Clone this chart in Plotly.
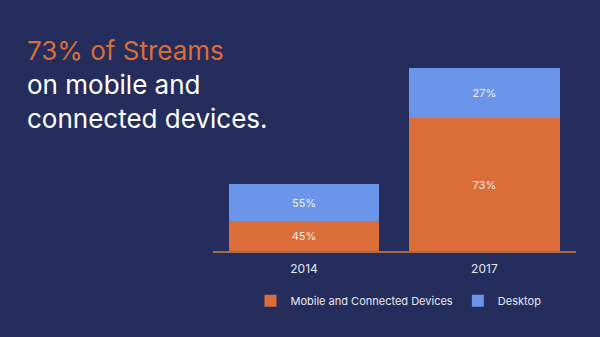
import plotly.graph_objects as go

years = ["2014", "2017"]
mobile_height = [30, 133]
desktop_height = [37, 50]
mobile_labels = ["45%", "73%"]
desktop_labels = ["55%", "27%"]
series_names = ["Mobile and Connected Devices", "Desktop"]

BG = "#242d5c"
ORANGE = "#db6d39"
BLUE = "#6a95ea"
FONT = "Inter"

fig = go.Figure()
fig.add_trace(go.Bar(
    x=years, y=mobile_height, name=series_names[0], text=mobile_labels,
    marker=dict(color=ORANGE, line=dict(width=0)),
    textposition="inside", insidetextanchor="middle",
    textfont=dict(color="#f3ece8", size=11, family=FONT),
))
fig.add_trace(go.Bar(
    x=years, y=desktop_height, name=series_names[1], text=desktop_labels,
    marker=dict(color=BLUE, line=dict(width=0)),
    textposition="inside", insidetextanchor="middle",
    textfont=dict(color="#eef2fb", size=11, family=FONT),
))

title_lines = [("73% of Streams", ORANGE, 50), ("on mobile and", "#ffffff", 84), ("connected devices.", "#ffffff", 118)]

ML, MR, MT, MB = 213, 24, 60, 86
plot_h = 337 - MT - MB
plot_w = 600 - ML - MR

fig.update_layout(
    width=600, height=337,
    paper_bgcolor=BG, plot_bgcolor=BG,
    barmode="stack", bargap=1 - 150 / 180,
    margin=dict(l=ML, r=MR, t=MT, b=MB),
    showlegend=True,
    legend=dict(orientation="h", x=0.5 + 4 / plot_w, xanchor="center", y=-0.184, yanchor="top",
                font=dict(color="#e6e8f0", size=11, family=FONT),
                bgcolor="rgba(0,0,0,0)", itemwidth=30, traceorder="normal"),
    xaxis=dict(range=[-0.505, 1.508], showgrid=False, zeroline=False,
               showline=True, linecolor="#a86b4e", linewidth=1.5,
               ticks="outside", ticklen=6, tickcolor=BG,
               tickfont=dict(color="#e6e8f0", size=12, family=FONT)),
    yaxis=dict(range=[0, 191], visible=False, showgrid=False),
)

anns = []
for txt, col, yc in title_lines:
    anns.append(dict(
        text=txt, xref="paper", yref="paper",
        x=(25 - ML) / plot_w, y=(337 - MB - yc) / plot_h,
        xanchor="left", yanchor="middle", showarrow=False,
        font=dict(color=col, size=26, family=FONT),
    ))
fig.update_layout(annotations=anns)

fig.write_html("out.html")
